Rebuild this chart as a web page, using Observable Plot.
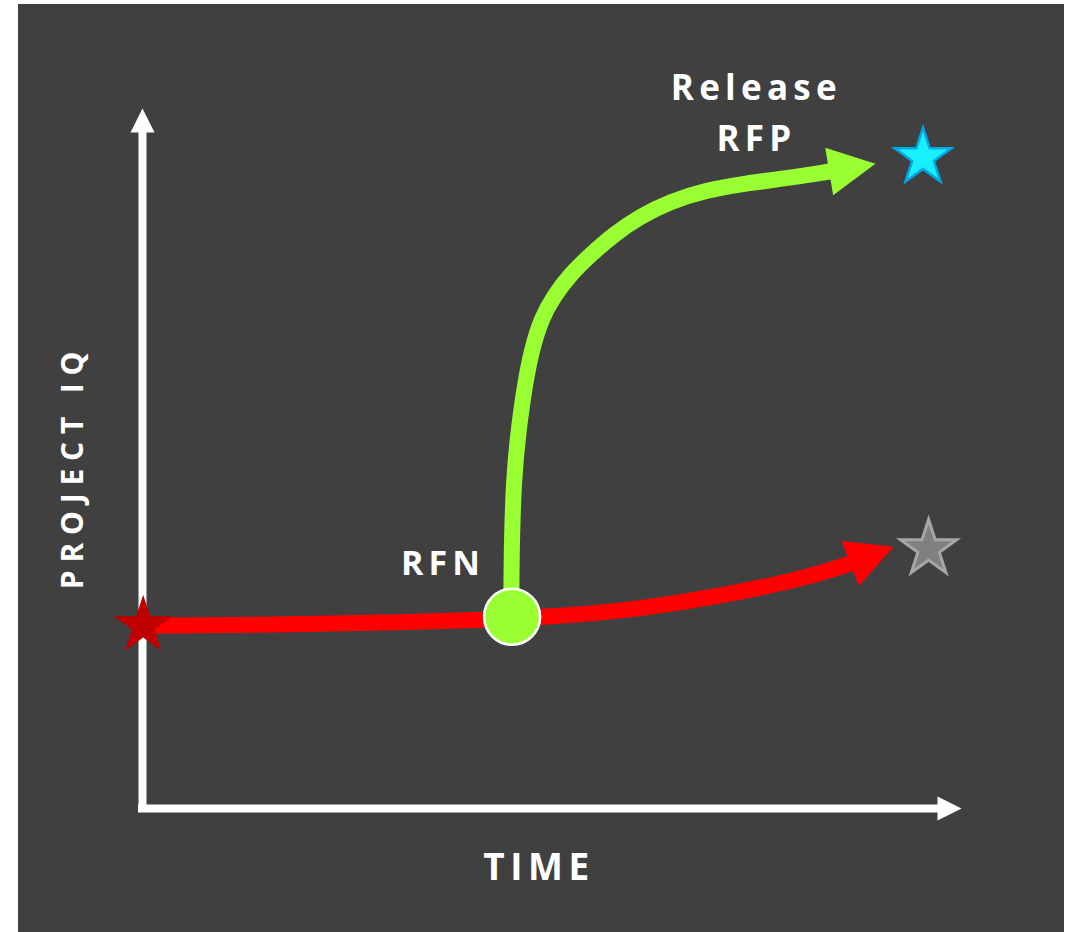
<!DOCTYPE html>
<html>
<head>
<meta charset="utf-8">
<script src="https://cdn.jsdelivr.net/npm/d3@7"></script>
<script src="https://cdn.jsdelivr.net/npm/@observablehq/plot@0.6"></script>
<style>
  html, body { margin: 0; padding: 0; background: #ffffff; }
  #chart { position: absolute; left: 18px; top: 4px; }
</style>
</head>
<body>
<div id="chart"></div>
<script>
// Business-as-usual path: project IQ barely rises over time (last point is the arrow tip)
const redTime = [0, 22.6, 36.9, 48.3, 56.9, 71.1, 85.4, 95.0, 101.1, 107.3];
const redIQ   = [26.1, 26.3, 26.6, 26.9, 27.3, 28.4, 30.9, 33.0, 35.0, 37.4];

// After the RFN, project IQ climbs steeply before release of the RFP (last point is the arrow tip)
const greenTime = [52.7, 52.7, 53.0, 53.7, 54.7, 55.7, 57.0, 58.7, 61.1, 64.0, 67.3, 71.1, 75.4, 80.4, 86.1, 92.6, 98.1, 104.7];
const greenIQ   = [27.4, 35.4, 46.9, 54.0, 61.1, 65.9, 70.0, 73.1, 76.3, 79.1, 82.0, 84.6, 86.7, 88.3, 89.3, 90.1, 91.0, 92.1];

// RFN milestone
const rfnTime = [52.8];
const rfnIQ = [27.4];

// Stars: starting point, outcome with RFN, outcome without
const starNames = ["start", "with RFN", "without RFN"];
const starTime = [0.1, 111.5, 112.3];
const starIQ   = [26.1, 93.0, 37.1];

// Axis extents
const timeMax = 117;
const iqMax = 100;

const toPoints = (xs, ys) => xs.map((x, i) => [x, ys[i]]);
const red = toPoints(redTime, redIQ);
const green = toPoints(greenTime, greenIQ);
const stars = starNames.map((name, i) => ({name, x: starTime[i], y: starIQ[i]}));

// Filled triangular arrowhead from a base centre to a tip (units are isotropic)
function head(from, tip, halfW) {
  const dx = tip[0] - from[0], dy = tip[1] - from[1];
  const len = Math.hypot(dx, dy);
  const nx = -dy / len * halfW, ny = dx / len * halfW;
  return [[from[0] + nx, from[1] + ny], [tip[0], tip[1]], [from[0] - nx, from[1] - ny]];
}

const axisHeadLen = 24 / 7, axisHeadHalf = 12 / 7, curveHeadHalf = 24 / 7;
const redTip = red[red.length - 1], redBase = red[red.length - 2];
const greenTip = green[green.length - 1], greenBase = green[green.length - 2];

const tri = (pts, fill) => Plot.line(pts, {x: d => d[0], y: d => d[1], curve: "linear-closed", fill, stroke: "none"});

const font = "'Open Sans', 'DejaVu Sans', sans-serif";
const label = {fontWeight: 700, fill: "#ffffff", textAnchor: "middle", lineAnchor: "middle"};

const plot = Plot.plot({
  width: 1046,
  height: 928,
  marginLeft: 124,
  marginRight: 103,
  marginTop: 104,
  marginBottom: 124,
  x: {domain: [0, timeMax], axis: null},
  y: {domain: [0, iqMax], axis: null},
  style: {background: "#404040", fontFamily: font, overflow: "visible"},
  marks: [
    // axes with arrowheads
    Plot.ruleX([0], {y1: 0, y2: iqMax - axisHeadLen, stroke: "#ffffff", strokeWidth: 8, strokeLinecap: "square"}),
    Plot.ruleY([0], {x1: 0, x2: timeMax - axisHeadLen, stroke: "#ffffff", strokeWidth: 8, strokeLinecap: "square"}),
    tri(head([0, iqMax - axisHeadLen], [0, iqMax], axisHeadHalf), "#ffffff"),
    tri(head([timeMax - axisHeadLen, 0], [timeMax, 0], axisHeadHalf), "#ffffff"),

    // business-as-usual path
    Plot.line(red.slice(0, -1), {x: d => d[0], y: d => d[1], curve: "basis", stroke: "#ff0000", strokeWidth: 16}),
    tri(head(redBase, redTip, curveHeadHalf), "#ff0000"),

    // RFN path
    Plot.line(green.slice(0, -1), {x: d => d[0], y: d => d[1], curve: "basis", stroke: "#99ff33", strokeWidth: 16}),
    tri(head(greenBase, greenTip, curveHeadHalf), "#99ff33"),

    // RFN milestone
    Plot.dot(rfnTime, {x: d => d, y: (d, i) => rfnIQ[i], r: 28, fill: "#99ff33", stroke: "#ffffff", strokeWidth: 2.5}),

    // stars
    Plot.dot([stars[0]], {x: "x", y: "y", symbol: "star", r: 18.5, fill: "#c00000", stroke: "none"}),
    Plot.dot([stars[1]], {x: "x", y: "y", symbol: "star", r: 17.8, fill: "#19f0ff", stroke: "#00a8e8", strokeWidth: 2.5}),
    Plot.dot([stars[2]], {x: "x", y: "y", symbol: "star", r: 17.6, fill: "#808080", stroke: "#a6a6a6", strokeWidth: 3}),

    // labels
    Plot.text([greenTip], {x: d => d[0], y: d => d[1], text: () => "Release", dx: -119, dy: -75.5, fontSize: 35, ...label}),
    Plot.text([greenTip], {x: d => d[0], y: d => d[1], text: () => "RFP", dx: -119, dy: -24.5, fontSize: 35, ...label}),
    Plot.text([[rfnTime[0], rfnIQ[0]]], {x: d => d[0], y: d => d[1], text: () => "RFN", dx: -69, dy: -53, fontSize: 34, ...label}),

    // axis titles
    Plot.text(["TIME"], {frameAnchor: "bottom", text: d => d, dx: -13, dy: 60, fontSize: 37, ...label}),
    Plot.text(["PROJECT IQ"], {frameAnchor: "left", text: d => d, rotate: -90, dx: -69, dy: 8, fontSize: 30, ...label})
  ]
});

// spaced-out lettering for all labels
d3.select(plot).selectAll("text")
  .style("letter-spacing", function() { return this.textContent === "PROJECT IQ" ? "0.26em" : "0.15em"; });

document.getElementById("chart").appendChild(plot);
</script>
</body>
</html>
